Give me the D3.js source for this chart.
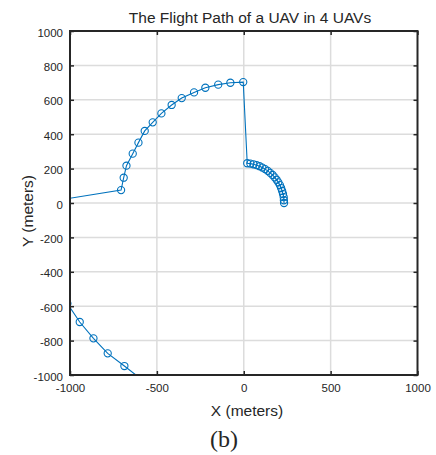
<!DOCTYPE html>
<html>
<head>
<meta charset="utf-8">
<script src="https://cdn.jsdelivr.net/npm/d3@7"></script>
<style>
  html, body { margin: 0; padding: 0; background: #fff; }
  svg { display: block; }
  text { font-family: "Liberation Sans", Arial, Helvetica, sans-serif; fill: #262626; }
</style>
</head>
<body>
<svg id="chart" width="436" height="455"></svg>
<script>
// ---- data (meters) ----
const titleText = "The Flight Path of a UAV in 4 UAVs";
const xLabel = "X (meters)";
const yLabel = "Y (meters)";
const caption = "(b)";
const xTicks = [-1000, -500, 0, 500, 1000];
const yTicks = [-1000, -800, -600, -400, -200, 0, 200, 400, 600, 800, 1000];

// path X and Y in order (points outside the axes are clipped)
const pathX = [-595, -687, -783, -865, -944, -1015, -1100,
  -706, -691, -675, -639, -606, -570, -524, -474, -415, -357, -286, -221, -147, -77, -3,
  20, 38, 56, 74, 91, 107, 123, 138, 152, 166, 178, 189, 199, 208, 215, 221, 226, 230, 231, 232];
const pathY = [-1020, -948, -874, -787, -692, -585, 11,
  75, 147, 217, 287, 351, 419, 469, 521, 570, 610, 643, 670, 688, 699, 703,
  231, 229, 225, 220, 214, 206, 197, 187, 175, 163, 149, 135, 120, 104, 87, 70, 52, 34, 16, 0];

// ---- layout ----
const svg = d3.select("#chart");
const L = 70, R = 417.5, T = 31, B = 375;
const x = d3.scaleLinear().domain([-1000, 1000]).range([L, R]);
const y = d3.scaleLinear().domain([-1000, 1000]).range([B, T]);

svg.append("defs").append("clipPath").attr("id", "clip")
  .append("rect").attr("x", L).attr("y", T).attr("width", R - L).attr("height", B - T);

// grid
const grid = svg.append("g").attr("stroke", "#dcdcdc").attr("stroke-width", 1.5);
grid.selectAll("line.gx").data(xTicks.slice(1, -1)).join("line")
  .attr("x1", d => x(d)).attr("x2", d => x(d)).attr("y1", T).attr("y2", B);
grid.selectAll("line.gy").data(yTicks.slice(1, -1)).join("line")
  .attr("y1", d => y(d)).attr("y2", d => y(d)).attr("x1", L).attr("x2", R);

// path data
const pts = pathX.map((v, i) => [v, pathY[i]]);
const plot = svg.append("g").attr("clip-path", "url(#clip)");
const color = "#0072BD";
plot.append("path").datum(pts)
  .attr("fill", "none").attr("stroke", color).attr("stroke-width", 1.1)
  .attr("d", d3.line().x(d => x(d[0])).y(d => y(d[1])));
plot.selectAll("circle").data(pts).join("circle")
  .attr("cx", d => x(d[0])).attr("cy", d => y(d[1])).attr("r", 3.6)
  .attr("fill", "none").attr("stroke", color).attr("stroke-width", 1.1);

// axes
const axB = svg.append("g").attr("transform", `translate(0,${B})`)
  .call(d3.axisBottom(x).tickValues(xTicks).tickSize(-4).tickPadding(9).tickFormat(d => String(d)));
const axT = svg.append("g").attr("transform", `translate(0,${T})`)
  .call(d3.axisTop(x).tickValues(xTicks).tickSize(-4).tickFormat(""));
const axLft = svg.append("g").attr("transform", `translate(${L},0)`)
  .call(d3.axisLeft(y).tickValues(yTicks).tickSize(-4).tickPadding(7).tickFormat(d => String(d)));
const axRt = svg.append("g").attr("transform", `translate(${R},0)`)
  .call(d3.axisRight(y).tickValues(yTicks).tickSize(-4).tickFormat(""));
[axB, axT, axLft, axRt].forEach(a => {
  a.select(".domain").remove();
  a.selectAll(".tick line").attr("stroke", "#262626").attr("stroke-width", 1.5);
  a.selectAll("text").attr("font-size", 11.5).attr("fill", "#262626")
    .attr("font-family", "'Liberation Sans', Arial, sans-serif");
});
axLft.selectAll("text").attr("dy", "0.45em");
axB.selectAll("text").attr("dy", "0.71em");

// box
svg.append("rect").attr("x", L).attr("y", T).attr("width", R - L).attr("height", B - T)
  .attr("fill", "none").attr("stroke", "#262626").attr("stroke-width", 2);

// labels
svg.append("text").attr("x", 250).attr("y", 23).attr("text-anchor", "middle")
  .attr("font-size", 15.5).attr("fill", "#000").text(titleText);
svg.append("text").attr("x", 247).attr("y", 416).attr("text-anchor", "middle")
  .attr("font-size", 15.5).text(xLabel);
svg.append("text").attr("transform", "translate(33,211) rotate(-90)").attr("text-anchor", "middle")
  .attr("font-size", 15.5).text(yLabel);
svg.append("text").attr("x", 224).attr("y", 447).attr("text-anchor", "middle")
  .attr("font-size", 24).style("font-family", "'Liberation Serif', 'Times New Roman', serif")
  .attr("fill", "#000").text(caption);
</script>
</body>
</html>
